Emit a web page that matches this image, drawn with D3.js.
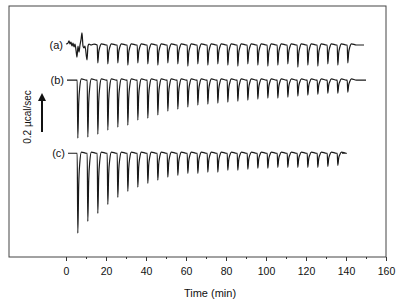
<!DOCTYPE html>
<html lang="en">
<head>
<meta charset="utf-8">
<title>ITC traces</title>
<script src="https://d3js.org/d3.v7.min.js"></script>
<style>
  body { margin: 0; background: #fff; }
  svg { font-family: "Liberation Sans", Arial, sans-serif; }
  .trace { fill: none; stroke: #1a1a1a; stroke-width: 1.2px; stroke-linejoin: round; }
  .frame { fill: none; stroke: #444; stroke-width: 1px; }
  .axis text { font-size: 10.5px; fill: #111; }
  .axis line { stroke: #333; }
  .label { font-size: 11px; fill: #111; }
</style>
</head>
<body>
<svg width="402" height="306"></svg>
<script>
// injection times (min), same schedule for the three runs
const injections = [5.6, 10.6, 15.6, 20.6, 25.6, 30.6, 35.6, 40.6, 45.6, 50.6,
                    55.6, 60.6, 65.6, 70.6, 75.6, 80.6, 85.6, 90.6, 95.6, 100.6,
                    105.6, 110.6, 115.6, 120.6, 125.6, 130.6, 135.6, 140.6];

// peak heights (µcal/sec)
const depthA = [0.062, 0.077, 0.092, 0.097, 0.092, 0.103, 0.092, 0.097, 0.103, 0.092,
                0.097, 0.108, 0.097, 0.103, 0.097, 0.103, 0.108, 0.097, 0.103, 0.108,
                0.103, 0.097, 0.113, 0.103, 0.108, 0.097, 0.103, 0.092];
const depthB = [0.297, 0.292, 0.277, 0.256, 0.241, 0.231, 0.205, 0.195, 0.179, 0.159,
                0.149, 0.138, 0.128, 0.123, 0.118, 0.113, 0.108, 0.103, 0.097, 0.092,
                0.092, 0.087, 0.082, 0.077, 0.072, 0.067, 0.067, 0.062];
const depthC = [0.410, 0.349, 0.308, 0.262, 0.226, 0.195, 0.174, 0.154, 0.138, 0.123,
                0.113, 0.103, 0.103, 0.097, 0.097, 0.087, 0.087, 0.082, 0.077, 0.077,
                0.072, 0.072, 0.072, 0.072, 0.072, 0.067, 0.062];

// noisy start of run (a): [time, signal relative to baseline]
const noiseA = [[0, 0.005], [1, 0.010], [1.5, 0.021], [2, 0.005], [2.5, 0.015],
                [3, -0.005], [3.5, 0.010], [4, -0.010], [4.5, 0.005], [5, -0.026],
                [5.5, -0.062], [6, -0.005], [6.5, -0.036], [7, 0], [7.5, 0.026],
                [8, 0.062], [8.5, -0.005], [9, -0.015], [9.5, -0.005], [10.5, -0.077],
                [11, -0.005], [11.5, 0.005], [12.5, 0], [14, 0.005]];

const runLabels = ["(a)", "(b)", "(c)"];
const baselines = [-0.20, -0.38, -0.755];   // vertical offset of each run
const startTimes = [0, 0.5, 1];
const endTimes = [149, 150, 138];
const depths = [depthA, depthB, depthC];

const xTicks = [0, 20, 40, 60, 80, 100, 120, 140, 160];
const xMinor = [10, 30, 50, 70, 90, 110, 130, 150];

const svg = d3.select("svg");

const x = d3.scaleLinear().domain([-28.5, 160]).range([9, 386]);
const y = d3.scaleLinear().domain([-1.287, 0]).range([257, 6]);

// build each trace: baseline with a sharp dip per injection
function tracePoints(r) {
  const base = baselines[r];
  const pts = [];
  let from = startTimes[r];
  if (r === 0) {
    noiseA.forEach(p => pts.push([p[0], base + p[1]]));
    from = noiseA[noiseA.length - 1][0];
  } else {
    pts.push([from, base]);
  }
  depths[r].forEach((d, i) => {
    const t = injections[i];
    if (t <= from || t >= endTimes[r]) return;
    pts.push([t, base]);
    pts.push([t + 0.3, base - d]);
    pts.push([t + 0.75, base - 0.4 * d]);
    pts.push([t + 1.3, base - 0.12 * d]);
    pts.push([t + 2.1, base + 0.006]);
    pts.push([t + 4.6, base]);
  });
  pts.push([endTimes[r], base]);
  return pts;
}

const line = d3.line()
  .x(d => x(d[0]))
  .y(d => y(d[1]))
  .curve(d3.curveMonotoneX);

runLabels.forEach((lab, r) => {
  svg.append("path")
    .attr("class", "trace")
    .attr("d", line(tracePoints(r)));
  svg.append("text")
    .attr("class", "label")
    .attr("x", x(startTimes[r]) - 3)
    .attr("y", y(baselines[r]) + 4)
    .attr("text-anchor", "end")
    .text(lab);
});

// frame
svg.append("rect")
  .attr("class", "frame")
  .attr("x", x(-28.5))
  .attr("y", y(0))
  .attr("width", x(160) - x(-28.5))
  .attr("height", y(-1.287) - y(0));

// x axis
svg.append("g")
  .attr("class", "axis")
  .attr("transform", "translate(0," + y(-1.287) + ")")
  .call(d3.axisBottom(x).tickValues(xTicks).tickSizeInner(4).tickSizeOuter(0).tickPadding(7))
  .call(g => g.select(".domain").remove());

svg.append("g")
  .attr("class", "axis")
  .attr("transform", "translate(0," + y(-1.287) + ")")
  .call(d3.axisBottom(x).tickValues(xMinor).tickFormat("").tickSizeInner(2).tickSizeOuter(0))
  .call(g => g.select(".domain").remove());

svg.append("text")
  .attr("class", "label")
  .attr("x", 210)
  .attr("y", 297)
  .attr("text-anchor", "middle")
  .text("Time (min)");

// scale bar: 0.2 µcal/sec
const barTop = y(-0.446);
const barBottom = y(-0.646);
svg.append("line")
  .attr("x1", 42).attr("x2", 42)
  .attr("y1", barBottom).attr("y2", barTop + 6)
  .attr("stroke", "#111").attr("stroke-width", 2);
svg.append("path")
  .attr("d", "M38," + (barTop + 8) + "L42," + barTop + "L46," + (barTop + 8) + "Z")
  .attr("fill", "#111");
svg.append("text")
  .attr("transform", "translate(31,117) rotate(-90)")
  .attr("text-anchor", "middle")
  .style("font-size", "10px")
  .attr("fill", "#111")
  .text("0.2 µcal/sec");
</script>
</body>
</html>
